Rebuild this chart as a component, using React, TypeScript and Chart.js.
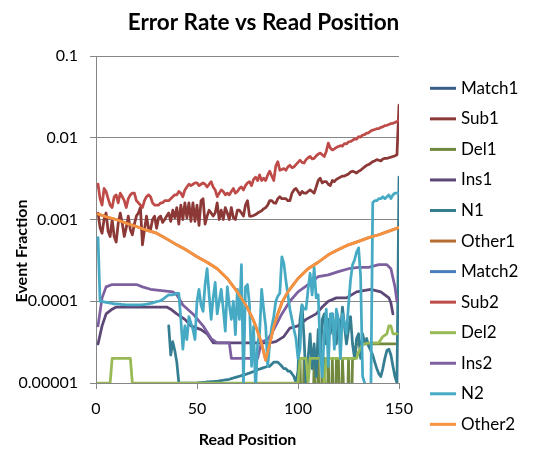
import React, { useEffect, useRef } from 'react';
import { Chart, registerables } from 'chart.js';

Chart.register(...registerables);

// ---------------- data ----------------
const positions: number[] = Array.from({ length: 150 }, (_, i) => i + 1);

const seriesNames = ['Match1', 'Sub1', 'Del1', 'Ins1', 'N1', 'Other1', 'Match2', 'Sub2', 'Del2', 'Ins2', 'N2', 'Other2'];
const seriesColors = ['#385D8A', '#8C3836', '#71893F', '#5C4776', '#357D91', '#B66D31', '#4A7EBB', '#BE4B48', '#98B954', '#7D60A0', '#46AAC5', '#F69240'];

const yTickValues = [0.00001, 0.0001, 0.001, 0.01, 0.1];
const yTickLabels = ['0.00001', '0.0001', '0.001', '0.01', '0.1'];
const xTickStep = 50;

const matchPos = [1, 50, 100, 150];
const match1Vals = [0.996, 0.997, 0.997, 0.99];
const match2Vals = [0.995, 0.996, 0.996, 0.98];

const sub1Vals = [
  0.0012, 0.0008, 0.00068, 0.001, 0.0012, 0.00072, 0.00062, 0.001, 0.00062, 0.00053,
  0.0009, 0.0012, 0.0009, 0.00062, 0.0008, 0.0011, 0.00075, 0.00065, 0.00088, 0.0011,
  0.0012, 0.0014, 0.00049, 0.00075, 0.0011, 0.00078, 0.00075, 0.001, 0.0011, 0.00078,
  0.00105, 0.0011, 0.00092, 0.001, 0.0011, 0.0012, 0.00095, 0.0013, 0.00105, 0.0014,
  0.00088, 0.0015, 0.001, 0.0016, 0.00105, 0.0016, 0.00095, 0.0016, 0.00095, 0.0015,
  0.00085, 0.0017, 0.0018, 0.00088, 0.0011, 0.0013, 0.0012, 0.0011, 0.0012, 0.0016,
  0.001, 0.0013, 0.001, 0.0014, 0.0012, 0.001, 0.0014, 0.00105, 0.001, 0.0013,
  0.0013, 0.0012, 0.0011, 0.0015, 0.0017, 0.0011, 0.0011, 0.00112, 0.00115, 0.0012,
  0.00124, 0.00128, 0.00135, 0.0014, 0.0015, 0.0017, 0.0017, 0.0016, 0.00158, 0.0018,
  0.0019, 0.0018, 0.0018, 0.0018, 0.0017, 0.0017, 0.0021, 0.0023, 0.0024, 0.0022,
  0.002, 0.0022, 0.0021, 0.0021, 0.0022, 0.0023, 0.0022, 0.0021, 0.0025, 0.003,
  0.0032, 0.0028, 0.0029, 0.0029, 0.0027, 0.0026, 0.003, 0.0029, 0.0031, 0.0032,
  0.0033, 0.0034, 0.0034, 0.0035, 0.0036, 0.0038, 0.0039, 0.0038, 0.0037, 0.0039,
  0.004, 0.0042, 0.0044, 0.0046, 0.0047, 0.0049, 0.0051, 0.0052, 0.0054, 0.0053,
  0.0052, 0.0055, 0.0056, 0.0056, 0.0057, 0.0058, 0.0059, 0.006, 0.0062, 0.025,
];

const sub2Vals = [
  0.0027, 0.0018, 0.0015, 0.0024, 0.0022, 0.0018, 0.0015, 0.0014, 0.0019, 0.002,
  0.0016, 0.0021, 0.0019, 0.0017, 0.0014, 0.0018, 0.002, 0.0021, 0.0021, 0.0017,
  0.0016, 0.0015, 0.0014, 0.0017, 0.0019, 0.002, 0.0019, 0.0016, 0.0015, 0.0015,
  0.0015, 0.0016, 0.0016, 0.0017, 0.0017, 0.0017, 0.0018, 0.0019, 0.002, 0.002,
  0.0022, 0.0021, 0.0019, 0.0023, 0.0025, 0.0027, 0.0026, 0.0027, 0.0028, 0.0028,
  0.0026, 0.0027, 0.0028, 0.0027, 0.0025, 0.0027, 0.0029, 0.0025, 0.0023, 0.0019,
  0.0021, 0.0023, 0.0022, 0.002, 0.0021, 0.002, 0.0022, 0.0024, 0.0021, 0.0022,
  0.0024, 0.0025, 0.0023, 0.0026, 0.0028, 0.0029, 0.0026, 0.0031, 0.0033, 0.003,
  0.0035, 0.003, 0.0032, 0.003, 0.0035, 0.0039, 0.0034, 0.003, 0.0045, 0.0051,
  0.004, 0.0041, 0.0042, 0.004, 0.0044, 0.0046, 0.0043, 0.0044, 0.0047, 0.005,
  0.0053, 0.005, 0.0049, 0.0054, 0.0057, 0.0059, 0.0055, 0.0056, 0.006, 0.0063,
  0.0065, 0.0062, 0.0059, 0.0068, 0.0086, 0.0075, 0.0071, 0.0073, 0.0076, 0.0078,
  0.008, 0.0079, 0.0085, 0.0084, 0.0089, 0.009, 0.0093, 0.0097, 0.0096, 0.0103,
  0.0102, 0.0108, 0.0109, 0.0114, 0.0115, 0.0121, 0.0124, 0.0126, 0.0129, 0.0129,
  0.0134, 0.0136, 0.0141, 0.0142, 0.0145, 0.0149, 0.015, 0.0154, 0.0158, 0.0163,
];

const del1Pos = [100, 101, 102, 103, 104, 107, 108, 109, 110, 111, 112, 113, 114, 115, 116, 117, 118, 119, 120, 121, 122, 124, 125, 126, 127, 128, 129, 148];
const del1Vals = [0.000001, 0.00002, 0.000001, 0.00002, 0.000001, 0.000001, 0.00002, 0.000001, 0.00002, 0.000001, 0.00002, 0.00002, 0.000001, 0.00002, 0.000001, 0.00002, 0.000001, 0.00002, 0.00002, 0.000001, 0.00002, 0.000001, 0.00002, 0.000001, 0.00002, 0.00002, 0.00003, 0.00003];

const del2Pos = [1, 7, 8, 17, 18, 100, 101, 102, 104, 105, 106, 112, 113, 114, 129, 130, 132, 136, 140, 142, 144, 145, 146, 147, 148, 149];
const del2Vals = [0.00001, 0.00001, 0.00002, 0.00002, 0.00001, 0.00001, 0.00002, 0.00002, 0.00002, 0.00001, 0.00002, 0.00002, 0.00001, 0.00002, 0.00002, 0.000024, 0.00003, 0.000031, 0.000031, 0.000037, 0.00004, 0.00005, 0.00005, 0.00004, 0.00004, 0.00004];

const ins1Pos = [1, 3, 5, 8, 10, 35, 37, 40, 44, 47, 52, 55, 58, 86, 89, 93, 96, 100, 104, 109, 112, 115, 119, 124, 129, 136, 141, 145, 146, 147];
const ins1Vals = [0.00003, 0.00005, 0.00007, 0.00008, 0.000085, 0.000085, 0.00008, 0.00007, 0.00006, 0.00005, 0.000045, 0.00004, 0.000031, 0.000031, 0.000032, 0.000037, 0.000047, 0.00005, 0.00006, 0.00007, 0.000085, 0.0001, 0.00011, 0.00011, 0.00013, 0.00014, 0.00013, 0.00011, 0.000095, 0.00007];

const ins2Pos = [1, 3, 5, 8, 20, 23, 27, 38, 40, 43, 48, 53, 57, 60, 66, 67, 80, 82, 85, 88, 92, 96, 100, 105, 110, 115, 120, 125, 130, 135, 140, 144, 146, 148, 149];
const ins2Vals = [0.00005, 0.00011, 0.00015, 0.00016, 0.00016, 0.00015, 0.00014, 0.00013, 0.00012, 0.00009, 0.00007, 0.00005, 0.000035, 0.000031, 0.000031, 0.00002, 0.00002, 0.000032, 0.000034, 0.000045, 0.00007, 0.0001, 0.00013, 0.00016, 0.0002, 0.00021, 0.00023, 0.00025, 0.00026, 0.00026, 0.00028, 0.00028, 0.00025, 0.00015, 0.0001];

const n1Vals: (number | null)[] = [
  null, null, null, null, null, null, null, null, null, null,
  null, null, null, null, null, null, null, null, null, null,
  null, null, null, null, null, null, null, null, null, null,
  null, null, null, null, null, 0.00005, 0.000022, 0.000032, 0.000025, 0.000018,
  0.00001, 0.00001, 0.00001, 0.00001, 0.00001, 0.00001, 0.00001, 0.00001, 0.00001, 0.00001,
  0.0000101, 0.0000101, 0.0000102, 0.0000102, 0.0000103, 0.0000103, 0.0000104, 0.0000104, 0.0000105, 0.0000105,
  0.0000106, 0.0000107, 0.0000108, 0.0000109, 0.000011, 0.0000111, 0.0000113, 0.0000115, 0.0000117, 0.0000119,
  0.0000121, 0.0000123, 0.0000125, 0.0000127, 0.000013, 0.0000132, 0.0000135, 0.0000138, 0.0000141, 0.0000145,
  0.0000148, 0.0000151, 0.0000154, 0.0000157, 0.000016, 0.000016, 0.000017, 0.000018, 0.000018, 0.000018,
  0.000017, 0.000016, 0.000015, 0.000015, 0.000014, 0.000014, 0.000013, 0.000012, 0.00001, 0.000014,
  0.00006, 0.00009, 0.000035, 0.00001, 0.00002, 0.00004, 0.000015, 0.00003, 0.000012, 0.000045,
  0.00002, 0.00006, 0.00007, 0.00003, 0.00006, 0.00004, 0.00007, 0.000045, 0.00003, 0.00006,
  0.00004, 0.000085, 0.00005, 0.00003, 0.000045, 0.000065, 0.00003, 0.00002, 0.000035, 0.00004,
  0.00002, 0.00004, 0.00003, 0.000035, 0.000028, 0.000025, 0.000022, 0.000018, 0.000015, 0.000013,
  0.000012, 0.000015, 0.00002, 0.000025, 0.000026, 0.000022, 0.000016, 0.000012, 0.00001, 0.0033,
];

const n2Vals = [
  0.0006, 0.0001, 0.0001, 0.000098, 0.000097, 0.000096, 0.000095, 0.000094, 0.000093, 0.000093,
  0.000092, 0.000092, 0.000091, 0.000091, 0.00009, 0.00009, 0.00009, 0.00009, 0.00009, 0.00009,
  0.00009, 0.00009, 0.000091, 0.000091, 0.000092, 0.000093, 0.000094, 0.000095, 0.000097, 0.000099,
  0.0001, 0.000102, 0.000105, 0.00011, 0.000115, 0.00012, 0.00012, 0.00012, 0.000122, 0.000125,
  0.000125, 0.00006, 0.000026, 0.00005, 0.000034, 0.000065, 0.000054, 0.000045, 0.000034, 0.0001,
  0.00014, 0.00009, 0.000075, 0.00016, 0.00025, 0.00012, 0.00006, 0.00011, 0.00017, 0.00007,
  0.0001, 0.00014, 0.00008, 0.000043, 0.00015, 0.00009, 0.00006, 0.0001, 0.000039, 0.00014,
  0.00006, 0.00028, 0.00001, 0.00015, 0.00016, 0.00009, 0.000016, 0.000049, 0.000008, 0.00003,
  0.000041, 0.00014, 0.00008, 0.00005, 0.000016, 0.00003, 0.000049, 0.000065, 0.0001, 0.000115,
  0.000125, 0.00035, 0.00029, 0.00018, 0.00012, 0.00008, 0.00006, 0.000045, 0.000035, 0.00002,
  0.000026, 0.00009, 0.00008, 0.00008, 0.00014, 0.00022, 0.00012, 0.00026, 0.00011, 0.00012,
  0.000026, 0.000012, 0.00004, 0.00008, 0.000016, 0.00007, 0.00007, 0.000026, 0.00008, 0.00006,
  0.00002, 0.00007, 0.000054, 0.00004, 0.00009, 0.00018, 0.00028, 0.00032, 0.0004, 0.00045,
  0.0002, 0.000012, 0.00001, 0.000008, 0.000005, 0.000005, 0.0016, 0.0017, 0.0017, 0.0018,
  0.0018, 0.0019, 0.0018, 0.0019, 0.002, 0.0018, 0.002, 0.0021, 0.0021, 0.0021,
];

const otherPos = [1, 5, 10, 15, 20, 25, 30, 35, 40, 45, 50, 55, 60, 65, 70, 75, 78, 80, 82, 84, 86, 88, 90, 92, 95, 100, 105, 110, 115, 120, 125, 130, 135, 140, 145, 150];
const other1Vals = [0.00117, 0.00108, 0.001, 0.0009, 0.00082, 0.00074, 0.00068, 0.00058, 0.00049, 0.00042, 0.00035, 0.0003, 0.00025, 0.00019, 0.00013, 0.000083, 0.000058, 0.000043, 0.00003, 0.000019, 0.00003, 0.000049, 0.00007, 0.000096, 0.00013, 0.00019, 0.00025, 0.0003, 0.00037, 0.00043, 0.00049, 0.00054, 0.0006, 0.00065, 0.00072, 0.0008];
const other2Vals = [0.00117, 0.00108, 0.001, 0.0009, 0.00082, 0.00074, 0.00068, 0.00058, 0.00049, 0.00042, 0.00035, 0.0003, 0.00025, 0.00019, 0.00013, 0.000083, 0.000058, 0.000043, 0.00003, 0.000019, 0.00003, 0.000049, 0.00007, 0.000096, 0.00013, 0.00019, 0.00025, 0.0003, 0.00037, 0.00043, 0.00049, 0.00054, 0.0006, 0.00065, 0.00072, 0.0008];

// ---------------- layout / style constants ----------------
const FONT = 'Lato, "Open Sans", "DejaVu Sans", sans-serif';
const W = 534;
const H = 474;
const AXIS_GREY = '#868686';
const LEG = { x0: 430, x1: 456, tx: 461, y0: 88.3, pitch: 30.55, font: 17, lw: 3 };
const Y_TITLE = { x: 22, y: 251, text: 'Event Fraction' };
const TITLE_SPAN = { left: 0, right: 527 };

const zip = (xs: number[], ys: (number | null)[]) => xs.map((x, i) => ({ x, y: ys[i] }));

const seriesData = [
  zip(matchPos, match1Vals),
  zip(positions, sub1Vals),
  zip(del1Pos, del1Vals),
  zip(ins1Pos, ins1Vals),
  zip(positions, n1Vals),
  zip(otherPos, other1Vals),
  zip(matchPos, match2Vals),
  zip(positions, sub2Vals),
  zip(del2Pos, del2Vals),
  zip(ins2Pos, ins2Vals),
  zip(positions, n2Vals),
  zip(otherPos, other2Vals),
];

const overlayPlugin = {
  id: 'excelOverlay',
  afterLayout(chart: any) {
    const tb = chart.titleBlock;
    if (tb) {
      tb.left = TITLE_SPAN.left;
      tb.right = TITLE_SPAN.right;
      tb.width = TITLE_SPAN.right - TITLE_SPAN.left;
    }
  },
  afterDraw(chart: any) {
    const ctx = chart.ctx as CanvasRenderingContext2D;
    // y axis title
    ctx.save();
    ctx.translate(Y_TITLE.x, Y_TITLE.y);
    ctx.rotate(-Math.PI / 2);
    ctx.font = `bold 16px ${FONT}`;
    ctx.fillStyle = '#000';
    ctx.textAlign = 'center';
    ctx.textBaseline = 'middle';
    ctx.fillText(Y_TITLE.text, 0, 0);
    ctx.restore();
    // legend
    ctx.save();
    ctx.font = `${LEG.font}px ${FONT}`;
    ctx.textAlign = 'left';
    ctx.textBaseline = 'middle';
    chart.data.datasets.forEach((ds: any, i: number) => {
      const y = LEG.y0 + i * LEG.pitch;
      ctx.strokeStyle = ds.borderColor;
      ctx.lineWidth = LEG.lw;
      ctx.lineCap = 'butt';
      ctx.beginPath();
      ctx.moveTo(LEG.x0, y);
      ctx.lineTo(LEG.x1, y);
      ctx.stroke();
      ctx.fillStyle = '#000';
      ctx.fillText(ds.label, LEG.tx, y);
    });
    ctx.restore();
  },
};

export default function App() {
  const ref = useRef<HTMLCanvasElement | null>(null);

  useEffect(() => {
    if (!ref.current) return;
    Chart.defaults.font.family = FONT;
    Chart.defaults.color = '#000';
    const chart = new Chart(ref.current, {
      type: 'line',
      data: {
        datasets: seriesNames.map((name, i) => ({
          label: name,
          data: seriesData[i] as any,
          borderColor: seriesColors[i],
          backgroundColor: seriesColors[i],
          borderWidth: 2.75,
          pointRadius: 0,
          tension: 0,
          fill: false,
          borderJoinStyle: 'round' as const,
          borderCapStyle: 'round' as const,
          order: seriesNames.length - 1 - i,
        })),
      },
      options: {
        animation: false,
        responsive: false,
        events: [],
        layout: { padding: { left: 0, right: 135, top: 0, bottom: 0 } },
        plugins: {
          legend: { display: false },
          tooltip: { enabled: false },
          title: {
            display: true,
            text: 'Error Rate vs Read Position',
            color: '#000',
            font: { family: FONT, size: 22.5, weight: 'bold' },
            padding: { top: 9, bottom: 20 },
          },
        },
        scales: {
          x: {
            type: 'linear',
            min: 0,
            max: 150,
            ticks: { stepSize: xTickStep, color: '#000', font: { size: 16 }, padding: 10.4, maxRotation: 0 },
            grid: { drawOnChartArea: false, color: AXIS_GREY, tickLength: 6, lineWidth: 1 },
            border: { color: AXIS_GREY, width: 1 },
            title: {
              display: true,
              text: 'Read Position',
              color: '#000',
              font: { size: 16, weight: 'bold' },
              padding: { top: 0, bottom: 24.4 },
            },
            afterFit: (s: any) => { s.height = 91; },
          },
          y: {
            type: 'logarithmic',
            min: 0.00001,
            max: 0.1,
            afterBuildTicks: (s: any) => { s.ticks = yTickValues.map((v) => ({ value: v })); },
            afterFit: (s: any) => { s.width = 96; },
            ticks: {
              autoSkip: false,
              color: '#000',
              font: { size: 16 },
              padding: 12,
              callback: (v: any) => {
                const idx = yTickValues.findIndex((t) => Math.abs(Math.log10(t) - Math.log10(Number(v))) < 1e-6);
                return idx >= 0 ? yTickLabels[idx] : '';
              },
            },
            grid: { color: AXIS_GREY, tickLength: 6, lineWidth: 1 },
            border: { color: AXIS_GREY, width: 1 },
          },
        },
      },
      plugins: [overlayPlugin],
    });
    return () => chart.destroy();
  }, []);

  return (
    <div style={{ position: 'fixed', left: 0, top: 0, width: W, height: H, background: '#fff' }}>
      <canvas ref={ref} width={W} height={H} style={{ display: 'block', width: W, height: H }} />
    </div>
  );
}
